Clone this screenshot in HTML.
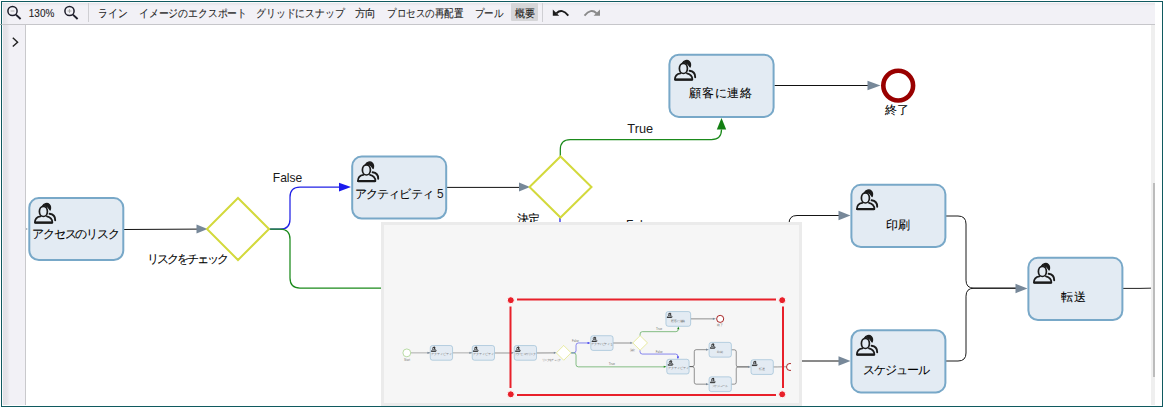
<!DOCTYPE html>
<html><head><meta charset="utf-8">
<style>
html,body{margin:0;padding:0;background:#fff;width:1163px;height:407px;overflow:hidden;font-family:"Liberation Sans",sans-serif;}
#frame{position:absolute;left:1px;top:1px;width:1160px;height:404px;border:1px solid #105a60;background:#fff;overflow:hidden;}
#toolbar{position:absolute;left:0;top:0;width:1153px;height:22px;background:linear-gradient(to bottom,#f9f9fb 0,#f9f9fb 1px,rgba(228,227,232,0.9) 1px,rgba(242,241,246,0) 4px),linear-gradient(to right,#f9f9fb 0,#f9f9fb 1px,#e3e2e7 1px,#e9e8ed 4px,#f2f1f6 7px);border-bottom:1px solid #c6c6ca;}
#sidebar{position:absolute;left:0;top:23px;width:23px;height:380px;background:linear-gradient(to right,#f9f9fb 0,#f9f9fb 1px,#e1e0e5 1px,#e5e4e9 5px,#f2f1f6 8px,#f2f1f6 100%);border-right:1px solid #c6c6c9;}
#track{position:absolute;left:1149px;top:23px;width:4px;height:380px;background:#efefef;}
#thumb{position:absolute;left:1151px;top:181px;width:2px;height:194px;background:#bcbcbc;}
svg{position:absolute;left:0;top:0;}
</style></head><body>
<div id="frame">
  <div id="toolbar"></div>
  <div id="sidebar"></div>
  <div id="track"></div>
  <div id="thumb"></div>
</div>
<svg width="1163" height="407" viewBox="0 0 1163 407">
<defs>
  <g id="uicon" fill="none" stroke="#1b1b1b" stroke-linecap="round" stroke-linejoin="round">
    <ellipse cx="15.4" cy="14.4" rx="4.0" ry="5.1" style="stroke-width:calc(1.7px * var(--im,1))"/>
    <path d="M14.4 9.2 C15.8 6.6 19.2 5.6 21.2 7.4 C22.6 8.7 22.8 11 22.1 13 C21.2 11.2 19.8 9.4 17.6 8.9 C16.4 8.7 15.2 9.0 14.4 9.2 Z" fill="#1b1b1b" style="stroke-width:calc(1.3px * var(--im,1))"/>
    <path d="M12.4 19.3 C9 19.8 6.9 22 6.9 25.6 H24.4 C24.4 22.4 22.2 20 18.9 19.3" style="stroke-width:calc(1.7px * var(--im,1))"/>
    <path d="M7.3 25.6 H24" style="stroke-width:calc(2.1px * var(--im,1))"/>
    <path d="M21.6 16.8 C25 17.2 27.2 19.6 27.2 23.2" style="stroke-width:calc(1.9px * var(--im,1))"/>
  </g>
  <linearGradient id="gl" x1="0" x2="1" y1="0" y2="0"><stop offset="0" stop-color="#0d0d0d"/><stop offset="1" stop-color="#7a7a7a"/></linearGradient>
  <clipPath id="cvclip"><rect x="26" y="25" width="1125" height="380"/></clipPath>
  <clipPath id="miniclip"><rect x="384" y="225" width="407" height="178"/></clipPath>
  <g id="diagram">
    <!-- connectors -->
    <g fill="none" style="stroke-width:var(--sw,1)">
      <path d="M-407 229 H-326" stroke="#555"/>
      <path d="M-230 229 H-149" stroke="#555"/>
      <path d="M-53 229.5 H18" stroke="#222"/>
      <path d="M124 229.5 L197 229.1" stroke="#111"/>
      <path d="M447 187.4 H520" stroke="#111"/>
      <path d="M774.5 85.5 H868" stroke="#111"/>
      <path d="M768 287 H779 Q789 287 789 279 V223.5 Q789 215.5 797 215.5 H839" stroke="#151515"/>
      <path d="M768 287 H779 Q789 287 789 295 V353 Q789 361 797 361 H839" stroke="#151515"/>
      <path d="M946 216 H958 Q966 216 966 224 V280.2 Q966 288.2 974 288.2 H1016" stroke="#1a1a1a"/>
      <path d="M946 361 H958 Q966 361 966 353 V296.2 Q966 288.2 974 288.2 H1016" stroke="#1a1a1a"/>
      <path d="M1123 288.4 H1140 L1176 287.6" stroke="#222"/>
      <path d="M269.5 229.2 H280 Q290 229.2 290 219.2 V197.2 Q290 187.2 300 187.2 H340" stroke="#2121e6" style="stroke-width:var(--sw2,1.25)"/>
      <path d="M269.5 229.2 H280 Q290 229.2 290 239.2 V278 Q290 288 300 288 H661" stroke="#1b8a1b" style="stroke-width:var(--sw2,1.25)"/>
      <path d="M560.3 156.5 V149.5 Q560.3 139.5 570.3 139.5 H711.5 Q721.5 139.5 721.5 129.5" stroke="#1b8a1b" style="stroke-width:var(--sw2,1.25)"/>
      <path d="M560 218 V224 Q560 234 570 234 H710 Q720 234 720 244 V245" stroke="#2121e6" style="stroke-width:var(--sw2,1.25)"/>
    </g>
    <!-- arrowheads -->
    <g fill="#778899">
      <path d="M-337 224.5 L-326 229 L-337 233.5Z"/>
      <path d="M-160 224.5 L-149 229 L-160 233.5Z"/>
      <path d="M17 224.5 L28 229 L17 233.5Z"/>
      <path d="M196.5 224.4 L207.5 229 L196.5 233.6Z"/>
      <path d="M519 182.4 L530 187 L519 191.6Z"/>
      <path d="M867.5 80.8 L880.5 85.5 L867.5 90.2Z"/>
      <path d="M838.5 210.8 L850.5 215.5 L838.5 220.2Z"/>
      <path d="M838.5 356.3 L850.5 361 L838.5 365.7Z"/>
      <path d="M1015.5 283.8 L1027.5 288.5 L1015.5 293.2Z"/>
    </g>
    <path d="M339 182.8 L351 187 L339 191.4Z" fill="#1a1aee"/>
    <path d="M660 283.8 L672 288 L660 292.2Z" fill="#1a8a1a"/>
    <path d="M716.8 129.5 L721.5 118 L726.2 129.5Z" fill="#127f12"/>
    <path d="M715.5 244 L720 255 L724.5 244Z" fill="#1a1aee"/>
    <!-- gateways -->
    <path d="M238 198 L269 229 L238 260 L207 229Z" fill="#fff" stroke="#d3d93c" stroke-width="2"/>
    <path d="M560.5 156.5 L591.5 187 L560.5 217.5 L529.5 187Z" fill="#fff" stroke="#d3d93c" stroke-width="2"/>
    <!-- events -->
    <circle cx="-424" cy="229" r="16.5" fill="#fff" stroke="#8cc66a" stroke-width="2.5"/>
    <circle cx="898.2" cy="85.6" r="14.9" fill="#fff" stroke="#990000" style="stroke-width:var(--esw,4.6)"/>
    <circle cx="1193" cy="288.5" r="14.9" fill="#fff" stroke="#990000" style="stroke-width:var(--esw,4.6)"/>
    <!-- tasks -->
    <g fill="#e3ebf3" stroke="#78a8c8" stroke-width="2">
      <rect x="-325" y="198" width="94" height="62" rx="9.5"/>
      <rect x="-148" y="198" width="94" height="62" rx="9.5"/>
      <rect x="29.3" y="198.1" width="94" height="62" rx="9.5"/>
      <rect x="352.2" y="156.6" width="94" height="62" rx="9.5"/>
      <rect x="669.4" y="54.7" width="104.2" height="62.2" rx="9.5"/>
      <rect x="673" y="256" width="94" height="62" rx="9.5"/>
      <rect x="851.4" y="184.8" width="94" height="62.2" rx="9.5"/>
      <rect x="851.4" y="330.2" width="94" height="62.2" rx="9.5"/>
      <rect x="1028.4" y="257.8" width="94" height="62.2" rx="9.5"/>
    </g>
    <use href="#uicon" x="-327" y="197"/>
    <use href="#uicon" x="-150" y="197"/>
    <use href="#uicon" x="28" y="197"/>
    <use href="#uicon" x="351" y="155.5"/>
    <use href="#uicon" x="668" y="54"/>
    <use href="#uicon" x="672" y="255"/>
    <use href="#uicon" x="850" y="183.5"/>
    <use href="#uicon" x="850" y="329"/>
    <use href="#uicon" x="1027" y="257"/>
    <!-- labels -->
    <g font-family="Liberation Sans, sans-serif" font-size="12" fill="var(--lbl,#000)" stroke="var(--lbls,#000)" stroke-width="0.08">
      <text x="32.4" y="238" textLength="87.2" lengthAdjust="spacing">アクセスのリスク</text>
      <text x="146.9" y="262.6" textLength="81.6" lengthAdjust="spacing">リスクをチェック</text>
      <text x="354.6" y="197.6" textLength="79.2" lengthAdjust="spacing">アクティビティ</text>
      <text x="516.5" y="223.2" textLength="23" lengthAdjust="spacing">決定</text>
      <text x="689.3" y="97.2" textLength="62.6" lengthAdjust="spacing">顧客に連絡</text>
      <text x="885.4" y="113.8" textLength="23.4" lengthAdjust="spacing">終了</text>
      <text x="885.9" y="229.3" textLength="24.2" lengthAdjust="spacing">印刷</text>
      <text x="863.2" y="374.3" textLength="67" lengthAdjust="spacing">スケジュール</text>
      <text x="1061.2" y="301" textLength="24.8" lengthAdjust="spacing">転送</text>
      <text x="-436" y="262">Start</text>
      <text x="-322" y="240">アクティビティ</text>
      <text x="-145" y="240">アクティビティ</text>
      <text x="676" y="298">アクティビティ</text>
    </g>
    <g font-family="Liberation Sans, sans-serif" font-size="13" fill="var(--lbl,#1a1a1a)">
      <text x="272.8" y="182" textLength="29.5" lengthAdjust="spacingAndGlyphs">False</text>
      <text x="437" y="198.4" font-size="13" textLength="6.6" lengthAdjust="spacingAndGlyphs">5</text>
      <text x="627.3" y="132.8" textLength="25.8" lengthAdjust="spacingAndGlyphs">True</text>
      <text x="626" y="228.5" textLength="29.5" lengthAdjust="spacingAndGlyphs">False</text>
      <text x="428" y="279">True</text>
    </g>
  </g>
</defs>

<rect x="0" y="24" width="2" height="1" fill="#9aa"/>
<!-- sidebar chevron -->
<path d="M12.8 37.8 L17.6 42.2 L12.8 46.6" fill="none" stroke="#222" stroke-width="1.4"/>

<!-- toolbar icons -->
<g fill="none" stroke="#1d1d2a">
  <circle cx="12.5" cy="11" r="4.6" stroke-width="1.5"/>
  <path d="M10.6 11 H14.4" stroke="#aaa" stroke-width="1"/>
  <path d="M15.9 14.6 L20.6 19" stroke-width="1.9"/>
  <circle cx="69.5" cy="11" r="4.6" stroke-width="1.5"/>
  <path d="M67.6 11 H71.4 M69.5 9.1 V12.9" stroke="#aaa" stroke-width="1"/>
  <path d="M72.9 14.6 L77.6 19" stroke-width="1.9"/>
</g>
<line x1="88.5" y1="3" x2="88.5" y2="22" stroke="#cfcfd3" stroke-width="1"/>
<rect x="511" y="3" width="27" height="18" fill="#d6d6d8" rx="1"/>
<line x1="542.5" y1="3" x2="542.5" y2="22" stroke="#cfcfd3" stroke-width="1"/>
<g font-family="Liberation Sans, sans-serif" font-size="11" fill="#1e1e1e" stroke="#1e1e1e" stroke-width="0.1">
  <text x="28.8" y="17" textLength="25.5" lengthAdjust="spacingAndGlyphs">130%</text>
  <text x="98" y="17" textLength="29.5" lengthAdjust="spacingAndGlyphs">ライン</text>
  <text x="139" y="17" textLength="108" lengthAdjust="spacingAndGlyphs">イメージのエクスポート</text>
  <text x="256" y="17" textLength="88.5" lengthAdjust="spacingAndGlyphs">グリッドにスナップ</text>
  <text x="354.5" y="17" textLength="21.5" lengthAdjust="spacingAndGlyphs">方向</text>
  <text x="387" y="17" textLength="76" lengthAdjust="spacingAndGlyphs">プロセスの再配置</text>
  <text x="474.5" y="17" textLength="28.5" lengthAdjust="spacingAndGlyphs">プール</text>
  <text x="515" y="17" textLength="20" lengthAdjust="spacingAndGlyphs">概要</text>
</g>
<!-- undo / redo -->
<path d="M556.5 13.2 Q562 7.8 568.3 15.6" fill="none" stroke="#1b1b1b" stroke-width="1.9"/>
<path d="M552.8 9.4 L552.8 15.8 L559.2 15.8Z" fill="#1b1b1b"/>
<path d="M596.5 13.2 Q591 7.8 584.5 15.6" fill="none" stroke="#8a8a8a" stroke-width="1.9"/>
<path d="M600 9.4 L600 15.8 L593.6 15.8Z" fill="#8a8a8a"/>

<!-- main canvas -->
<g clip-path="url(#cvclip)">
  <use href="#diagram"/>
</g>
<rect x="25" y="25" width="1" height="380" fill="#c9c9cc"/>

<!-- overview panel -->
<rect x="381" y="222" width="421" height="184" fill="#ebebeb"/>
<rect x="384" y="225" width="415" height="178" fill="#f6f6f6"/>
<g clip-path="url(#miniclip)">
  <g transform="translate(507.3 298.6) scale(0.237)">
    <use href="#diagram" style="--lbl:#707070;--lbls:none;--sw:1.9;--sw2:2.2;--esw:3.6;--im:1.4"/>
  </g>
</g>
<!-- viewport rect -->
<g stroke="#e8202a" stroke-width="2" fill="none">
  <path d="M517 299.5 H776"/>
  <path d="M517 395 H776"/>
  <path d="M510.5 306.5 V388"/>
  <path d="M783 306.5 V388"/>
</g>
<g fill="#e8202a" stroke="#fff" stroke-width="1">
  <circle cx="510.8" cy="300.2" r="3.5"/>
  <circle cx="782.2" cy="300.2" r="3.5"/>
  <circle cx="510.8" cy="394.3" r="3.5"/>
  <circle cx="782.2" cy="394.3" r="3.5"/>
</g>
</svg>
</body></html>
